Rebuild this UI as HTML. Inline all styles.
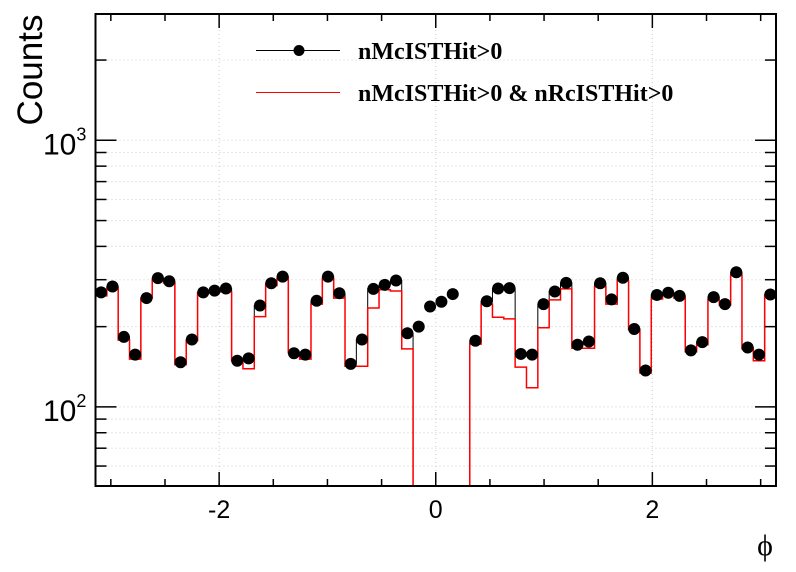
<!DOCTYPE html>
<html><head><meta charset="utf-8"><style>
html,body{margin:0;padding:0;background:#fff;}
svg{display:block;}
</style></head><body>
<svg id="chart" width="796" height="572" xmlns="http://www.w3.org/2000/svg">
<rect x="0" y="0" width="796" height="572" fill="#fff"/>
<g id="grid"></g>
<g id="series"></g>
<g id="axes"></g>
<text x="42" y="70" transform="rotate(-90 42 70)" font-family="Liberation Sans, sans-serif" font-size="35" text-anchor="middle" fill="#000">Counts</text>
<text x="765" y="555" font-family="Liberation Serif, DejaVu Serif, serif" font-size="30" text-anchor="middle" fill="#000">ϕ</text>
<g>
 <g>
  <line x1="256" y1="50.5" x2="340" y2="50.5" stroke="#000" stroke-width="1"/>
  <circle cx="299" cy="50.5" r="5.5" fill="#000"/>
  <text x="358" y="59" font-family="Liberation Serif, serif" font-weight="bold" font-size="24" fill="#000">nMcISTHit&gt;0</text>
 </g>
 <g>
  <line x1="256" y1="92.5" x2="340" y2="92.5" stroke="#f00" stroke-width="1"/>
  <text x="358" y="101" font-family="Liberation Serif, serif" font-weight="bold" font-size="24" fill="#000">nMcISTHit&gt;0 &amp; nRcISTHit&gt;0</text>
 </g>
</g>
</svg>
<script>
const nBins = 60;
const xMin = -Math.PI, xMax = Math.PI;
const yMin = 50.5, yMax = 2977;
const mcCounts = [269,283,183,157,256,304,296,147,179,269,273,278,149,152,240,291,308,159,157,250,308,267,145,179,277,287,298,189,200,238,248,265,0,177,249,278,279,158,157,243,271,292,171,176,291,253,305,196,137,263,268,261,163,175,258,243,320,167,157,264];
const mcLineCounts = [269,283,183,157,256,304,296,147,179,269,273,278,149,152,240,291,308,159,157,250,308,267,145,179,277,287,298,189,0,0,0,0,0,177,249,278,279,158,157,243,271,292,171,176,291,253,305,196,137,263,268,261,163,175,258,243,320,167,157,264];
const rcCounts = [261,279,178,151,256,298,292,144,177,268,272,270,149,139,218,285,302,160,151,243,302,256,142,142,235,275,272,165,0,0,0,0,0,172,243,217,214,141,118,198,252,277,166,166,282,243,297,195,134,254,263,256,161,171,252,241,311,165,149,261];
const xTickLabels = ["-2","0","2"];
const xTickValues = [-2,0,2];
const yMajorTicks = [100,1000];
const yMajorLabels = ["2","3"];
const yMinorTicks = [60,70,80,90,200,300,400,500,600,700,800,900,2000];

const L = 95.5, R = 776, T = 14, B = 486;
function xs(v){ return L + (v - xMin) / (xMax - xMin) * (R - L); }
function ys(v){ if (v <= 0) return B; const y = B - (Math.log10(v) - Math.log10(yMin)) / (Math.log10(yMax) - Math.log10(yMin)) * (B - T); return Math.max(T, Math.min(B, y)); }
const NS = "http://www.w3.org/2000/svg";
function mk(tag, attrs, parent){ const e = document.createElementNS(NS, tag); for (const k in attrs) e.setAttribute(k, attrs[k]); parent.appendChild(e); return e; }
const grid = document.getElementById('grid'), series = document.getElementById('series'), axes = document.getElementById('axes');
const bw = (xMax - xMin) / nBins;

xTickValues.forEach(v => {
  const g = mk('line', {x1: xs(v), x2: xs(v), y1: T, y2: B, stroke: '#ccc', 'stroke-dasharray': '1,3', 'stroke-width': 1}, grid);
  
  
});
yMajorTicks.concat(yMinorTicks).forEach(v => {
  const g = mk('line', {x1: L, x2: R, y1: ys(v), y2: ys(v), stroke: '#ccc', 'stroke-dasharray': '1,3', 'stroke-width': 1}, grid);
  
  
});

function histPath(vals){
  let d = 'M' + xs(xMin) + ',' + B;
  vals.forEach((v, i) => {
    const x0 = xs(xMin + i * bw), x1 = xs(xMin + (i + 1) * bw), y = ys(v);
    d += ' L' + x0 + ',' + y + ' L' + x1 + ',' + y;
  });
  d += ' L' + xs(xMax) + ',' + B;
  return d;
}
const mcLine = mk('path', {d: histPath(mcLineCounts), fill: 'none', stroke: '#000', 'stroke-width': 1}, series);


const rcLine = mk('path', {d: histPath(rcCounts), fill: 'none', stroke: '#f00', 'stroke-width': 1.5}, series);


mcCounts.forEach((v, i) => {
  if (v <= 0) return;
  const c = mk('circle', {cx: xs(xMin + (i + 0.5) * bw), cy: ys(v), r: 6, fill: '#000'}, series);
  
  
});

const fr = mk('rect', {x: L, y: T, width: R - L, height: B - T, fill: 'none', stroke: '#000', 'stroke-width': 2}, axes);


for (let k = -6; k <= 6; k++) {
  const v = k * 0.5, x = xs(v), major = (k % 4 === 0);
  const len = major ? 14 : 7;
  const t1 = mk('line', {x1: x, x2: x, y1: B, y2: B - len, stroke: '#000', 'stroke-width': 1.5}, axes);
  
  
  const t2 = mk('line', {x1: x, x2: x, y1: T, y2: T + len, stroke: '#000', 'stroke-width': 1.5}, axes);
  
  
}
xTickValues.forEach((v, i) => {
  const t = mk('text', {x: xs(v), y: 518, 'font-family': 'Liberation Sans, sans-serif', 'font-size': 25, 'text-anchor': 'middle', fill: '#000'}, axes);
  t.textContent = xTickLabels[i];
  
  
});
yMajorTicks.forEach((v, i) => {
  const y = ys(v);
  const a = mk('line', {x1: L, x2: L + 21, y1: y, y2: y, stroke: '#000', 'stroke-width': 1.5}, axes);
  
  
  const b = mk('line', {x1: R, x2: R - 21, y1: y, y2: y, stroke: '#000', 'stroke-width': 1.5}, axes);
  
  
  const t = mk('text', {x: 43, y: y + 14, 'font-family': 'Liberation Sans, sans-serif', 'font-size': 30, fill: '#000'}, axes);
  
  
  t.textContent = '10';
  const s = mk('tspan', {dy: -14, 'font-size': 18}, t);
  s.textContent = yMajorLabels[i];
});
yMinorTicks.forEach(v => {
  const y = ys(v);
  const a = mk('line', {x1: L, x2: L + 11, y1: y, y2: y, stroke: '#000', 'stroke-width': 1.5}, axes);
  
  
  const b = mk('line', {x1: R, x2: R - 11, y1: y, y2: y, stroke: '#000', 'stroke-width': 1.5}, axes);
  
  
});
</script>
</body></html>
